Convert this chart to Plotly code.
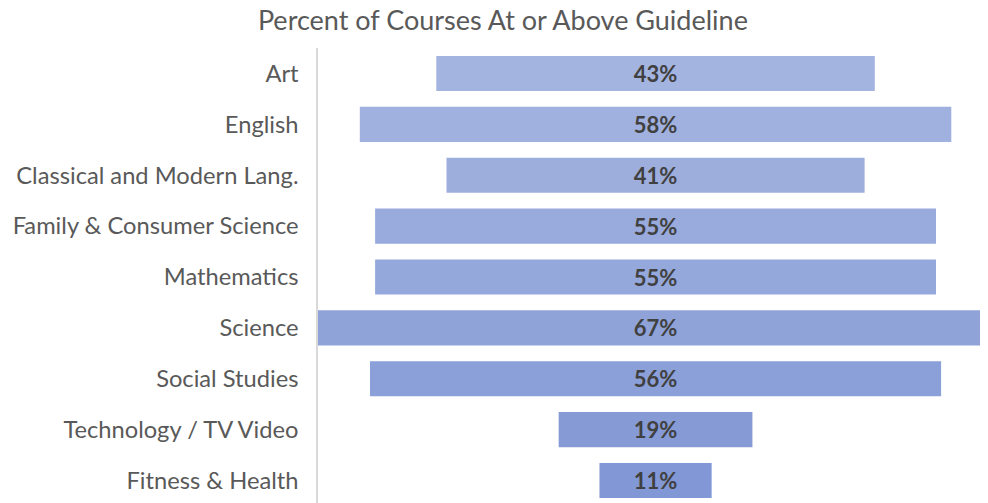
import plotly.graph_objects as go

categories = ["Art", "English", "Classical and Modern Lang.", "Family & Consumer Science",
              "Mathematics", "Science", "Social Studies", "Technology / TV Video", "Fitness & Health"]
values = [43, 58, 41, 55, 55, 67, 56, 19, 11]
labels = [f"{v}%" for v in values]
colors = ["#a4b4e0", "#a1b1df", "#9daedd", "#99abdc", "#95a8db",
          "#8fa3d9", "#8b9fd8", "#869ad6", "#8297d5"]

fig = go.Figure(go.Bar(
    y=categories,
    x=values,
    base=[-v / 2 for v in values],
    orientation="h",
    marker=dict(color=colors, line=dict(width=0)),
    text=labels,
    textposition="inside",
    insidetextanchor="middle",
    textangle=0,
    textfont=dict(family="Lato", size=22, color="#404040", weight="bold"),
    width=0.69,
    hoverinfo="skip",
))

# page body has an 8px margin, so the figure is sized/offset to compensate
fig.update_layout(
    width=980, height=498,
    margin=dict(l=310, r=0, t=40, b=0),
    paper_bgcolor="white",
    plot_bgcolor="white",
    showlegend=False,
    title=dict(text="Percent of Courses At or Above Guideline", x=0.505, xanchor="center",
               y=0.975, yanchor="middle",
               font=dict(family="Lato", size=27, color="#595959")),
    uniformtext=dict(minsize=17, mode="show"),
)
fig.update_xaxes(range=[-33.1, 32.6], visible=False, showgrid=False, zeroline=False)
fig.update_yaxes(range=[8.5, -0.5], showgrid=False, zeroline=False,
                 showline=True, linecolor="#d9d9d9", linewidth=1.5,
                 ticks="", ticklabelstandoff=13,
                 tickfont=dict(family="Lato", size=23.7, color="#595959"))

fig.write_html("out.html")
